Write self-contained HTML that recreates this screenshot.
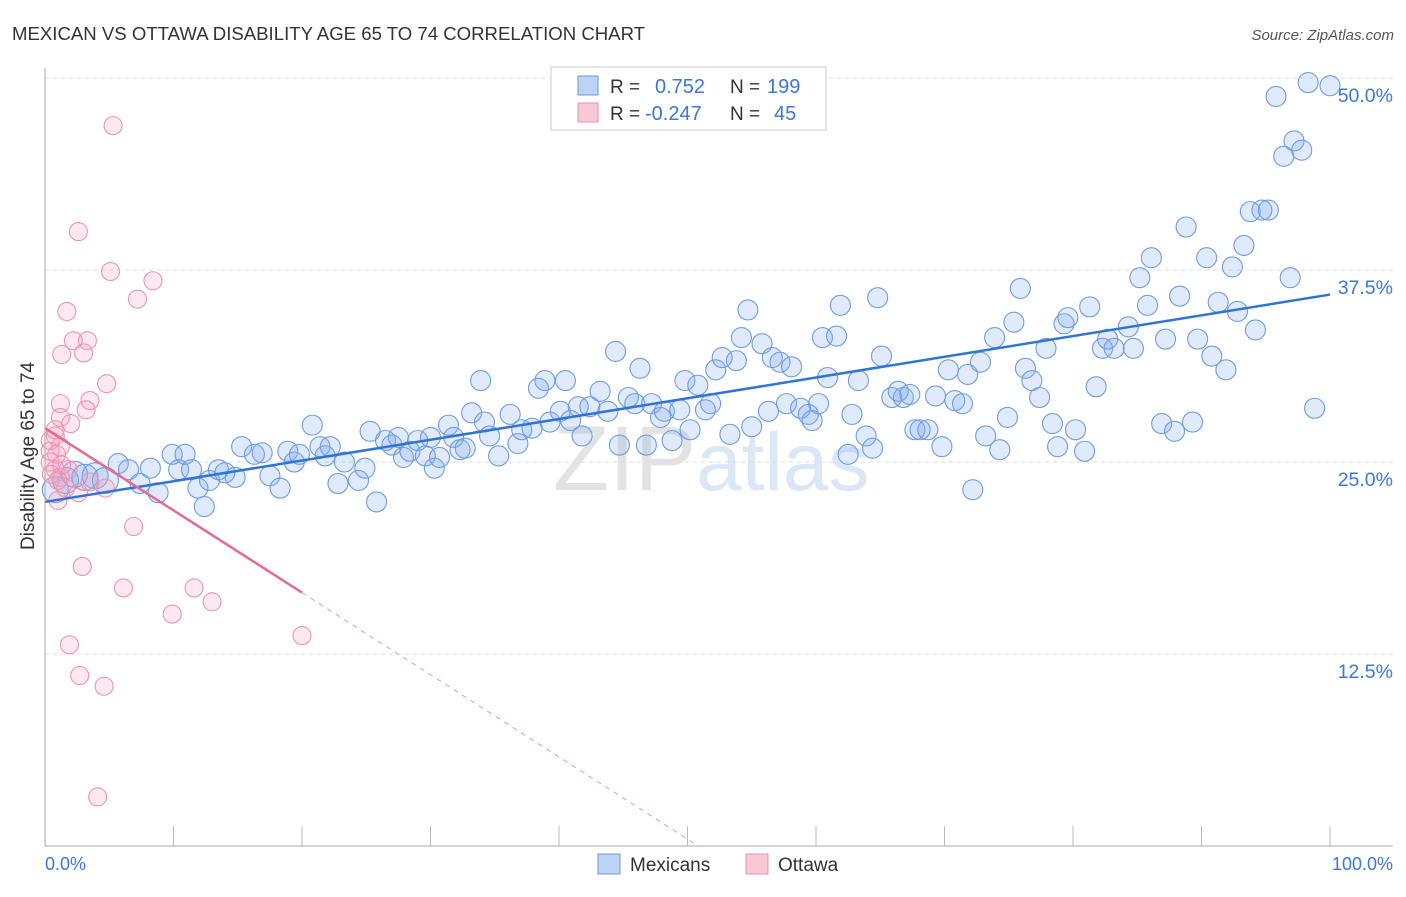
<!DOCTYPE html>
<html><head><meta charset="utf-8"><style>
body{margin:0;background:#fff;font-family:"Liberation Sans",sans-serif}
svg text{font-family:"Liberation Sans",sans-serif}
</style></head><body>
<svg id="chart" width="1406" height="892">
<text x="12" y="40" font-size="18.6" fill="#333">MEXICAN VS OTTAWA DISABILITY AGE 65 TO 74 CORRELATION CHART</text>
<text x="1394" y="40" font-size="15" fill="#555" font-style="italic" text-anchor="end">Source: ZipAtlas.com</text>
<text transform="translate(34,456) rotate(-90)" font-size="19" fill="#333" text-anchor="middle">Disability Age 65 to 74</text>
<text x="553" y="490" font-size="92" fill="#e3e3e3" font-family="Liberation Serif">ZIP<tspan fill="#dce7f6" font-family="Liberation Sans" font-size="82">atlas</tspan></text>
<g id="grid"></g><g id="marks"></g><g id="lines"></g>
<line x1="45" y1="68" x2="45" y2="846" stroke="#aaa"/>
<line x1="45" y1="846" x2="1393" y2="846" stroke="#aaa"/>
<text x="45" y="870" font-size="18" fill="#3b78d8">0.0%</text>
<text x="1393" y="870" font-size="18" fill="#3b78d8" text-anchor="end">100.0%</text>
<g>
<rect x="551" y="67" width="275" height="63" fill="#fff" stroke="#ccc"/>
<rect x="578" y="76" width="20" height="19" fill="#bcd3f5" stroke="#6a9be0"/>
<rect x="578" y="103" width="20" height="19" fill="#f8c8d6" stroke="#e890aa"/>
<text x="610" y="93" font-size="19" fill="#333">R = </text><text x="655" y="93" font-size="20" fill="#3b78d8">0.752</text>
<text x="730" y="93" font-size="19" fill="#333">N = </text><text x="767" y="93" font-size="20" fill="#3b78d8">199</text>
<text x="610" y="120" font-size="19" fill="#333">R = </text><text x="645" y="120" font-size="20" fill="#3b78d8">-0.247</text>
<text x="730" y="120" font-size="19" fill="#333">N = </text><text x="774" y="120" font-size="20" fill="#3b78d8">45</text>
</g>
<g>
<rect x="598" y="854" width="22" height="20" fill="#bcd3f5" stroke="#6a9be0"/>
<text x="630" y="871" font-size="19" fill="#333">Mexicans</text>
<rect x="746" y="854" width="22" height="20" fill="#f8c8d6" stroke="#e890aa"/>
<text x="778" y="871" font-size="19" fill="#333">Ottawa</text>
</g>
</svg>
<script>
const yTicks=[12.5,25,37.5,50];
const xTicks=[0,10,20,30,40,50,60,70,80,90,100];
const blueX=[0.8,1.6,2.3,3.1,3.9,4.7,5.7,6.5,7.4,8.2,8.8,9.9,10.4,10.9,11.4,11.9,12.4,12.8,13.5,14.0,14.8,15.3,16.3,16.9,17.5,18.3,18.9,19.4,19.8,20.8,21.4,21.8,22.2,22.8,23.3,24.4,24.9,25.3,25.8,26.5,27.0,27.5,27.9,28.4,29.0,29.6,30.0,30.3,30.7,31.4,31.8,32.3,32.7,33.2,33.9,34.2,34.6,35.3,36.2,36.8,37.1,37.9,38.4,38.9,39.3,40.1,40.5,40.9,41.5,41.8,42.4,43.2,43.8,44.4,44.7,45.4,45.9,46.3,46.8,47.2,47.9,48.2,48.8,49.4,49.8,50.2,50.8,51.4,51.8,52.2,52.7,53.3,53.8,54.2,54.7,55.0,55.8,56.3,56.6,57.2,57.7,58.1,58.8,59.4,59.7,60.2,60.5,60.9,61.6,61.9,62.5,62.8,63.3,63.9,64.4,64.8,65.1,65.9,66.4,66.8,67.3,67.7,68.1,68.7,69.3,69.8,70.3,70.8,71.4,71.8,72.2,72.8,73.2,73.9,74.3,74.9,75.4,75.9,76.3,76.8,77.4,77.9,78.4,78.8,79.3,79.6,80.2,80.9,81.3,81.8,82.3,82.7,83.2,84.3,84.7,85.2,85.8,86.1,86.9,87.2,87.9,88.3,88.8,89.3,89.7,90.4,90.8,91.3,91.9,92.4,92.8,93.3,93.8,94.2,94.7,95.2,95.8,96.4,96.9,97.2,97.8,98.3,98.8,100];
const blueY=[23.2,23.8,24.2,24.0,24.1,23.8,24.9,24.5,23.6,24.6,23.0,25.5,24.5,25.5,24.5,23.3,22.1,23.8,24.5,24.3,24.0,26.0,25.5,25.6,24.1,23.3,25.7,25.0,25.5,27.4,26.0,25.4,26.0,23.6,25.0,23.8,24.6,27.0,22.4,26.4,26.1,26.6,25.3,25.7,26.4,25.4,26.6,24.6,25.3,27.4,26.6,25.8,25.9,28.2,30.3,27.6,26.7,25.4,28.1,26.2,27.1,27.2,29.8,30.3,27.6,28.3,30.3,27.7,28.6,26.7,28.6,29.6,28.3,32.2,26.1,29.2,28.8,31.1,26.1,28.8,27.9,28.3,26.4,28.4,30.3,27.1,30.0,28.4,28.8,31.0,31.8,26.8,31.6,33.1,34.9,27.3,32.7,28.3,31.8,31.5,28.8,31.2,28.5,28.1,27.7,28.8,33.1,30.5,33.2,35.2,25.5,28.1,30.3,26.7,25.9,35.7,31.9,29.2,29.6,29.2,29.4,27.1,27.1,27.1,29.3,26.0,31.0,29.0,28.8,30.7,23.2,31.5,26.7,33.1,25.8,27.9,34.1,36.3,31.1,30.3,29.2,32.4,27.5,26.0,34.0,34.4,27.1,25.7,35.1,29.9,32.4,33.0,32.4,33.8,32.4,37.0,35.2,38.3,27.5,33.0,27.0,35.8,40.3,27.6,33.0,38.3,31.9,35.4,31.0,37.7,34.8,39.1,41.3,33.6,41.4,41.4,48.8,44.9,37.0,45.9,45.3,49.7,28.5,49.5];
const pinkX=[5.3,2.6,5.1,8.4,7.2,1.7,3.3,2.2,1.3,3.0,4.8,1.2,3.5,3.2,1.2,2.0,0.8,1.2,0.4,0.9,0.4,0.8,1.2,1.6,2.6,1.0,6.9,2.9,6.1,11.6,13.0,9.9,1.9,20.0,2.7,4.6,4.1,0.4,0.8,1.8,3.5,4.7,1.0,1.3,0.5];
const pinkY=[46.9,40.0,37.4,36.8,35.6,34.8,32.9,32.9,32.0,32.1,30.1,28.8,29.0,28.4,27.9,27.5,26.7,26.0,25.7,25.5,25.0,24.5,24.0,23.3,23.0,22.5,20.8,18.2,16.8,16.8,15.9,15.1,13.1,13.7,11.1,10.4,3.2,26.4,27.1,24.5,23.7,23.3,23.8,24.8,24.2];
const blueTrend=[22.4,35.9];
const pinkTrend=[27.2,-0.535];
const pinkSolidEnd=20;
const X=v=>45+v*12.85, Y=v=>846-v*15.36;
const NS='http://www.w3.org/2000/svg';
function mk(tag,attrs,parent){const e=document.createElementNS(NS,tag);for(const k in attrs)e.setAttribute(k,attrs[k]);document.getElementById(parent).appendChild(e);return e;}
yTicks.forEach(t=>{
 const l=mk('line',{x1:45,x2:1393,y1:Y(t),y2:Y(t),stroke:'#ddd','stroke-dasharray':'4,4'},'grid');
 
 
 const tx=mk('text',{x:1393,y:Y(t)+24,'font-size':19.5,fill:'#3b78d8','text-anchor':'end'},'grid');
 tx.textContent=t.toFixed(1)+'%';
 
 
});
xTicks.forEach(t=>{
 const l=mk('line',{x1:X(t),x2:X(t),y1:846,y2:826,stroke:'#bbb'},'grid');
 
 
});
blueX.forEach((x,i)=>{
 const r=x<5?13:10;
 const c=mk('circle',{cx:X(x),cy:Y(blueY[i]),r:r,fill:'rgba(130,170,235,0.25)',stroke:'#6d9de0','stroke-width':1.1},'marks');
 
 
});
pinkX.forEach((x,i)=>{
 const c=mk('circle',{cx:X(x),cy:Y(pinkY[i]),r:9,fill:'rgba(245,165,195,0.25)',stroke:'#ec95b1','stroke-width':1.1},'marks');
 
 
});
const bl=mk('line',{x1:X(0),y1:Y(blueTrend[0]),x2:X(100),y2:Y(blueTrend[1]),stroke:'#2f74d8','stroke-width':2.5},'lines');


const pe=pinkTrend[0]+pinkTrend[1]*pinkSolidEnd, zx=-pinkTrend[0]/pinkTrend[1];
const pl=mk('line',{x1:X(0),y1:Y(pinkTrend[0]),x2:X(pinkSolidEnd),y2:Y(pe),stroke:'#e66a92','stroke-width':2.5},'lines');


const pd=mk('line',{x1:X(pinkSolidEnd),y1:Y(pe),x2:X(zx),y2:Y(0),stroke:'#e89ab2','stroke-width':1,'stroke-dasharray':'5,5'},'lines');


</script>
</body></html>
